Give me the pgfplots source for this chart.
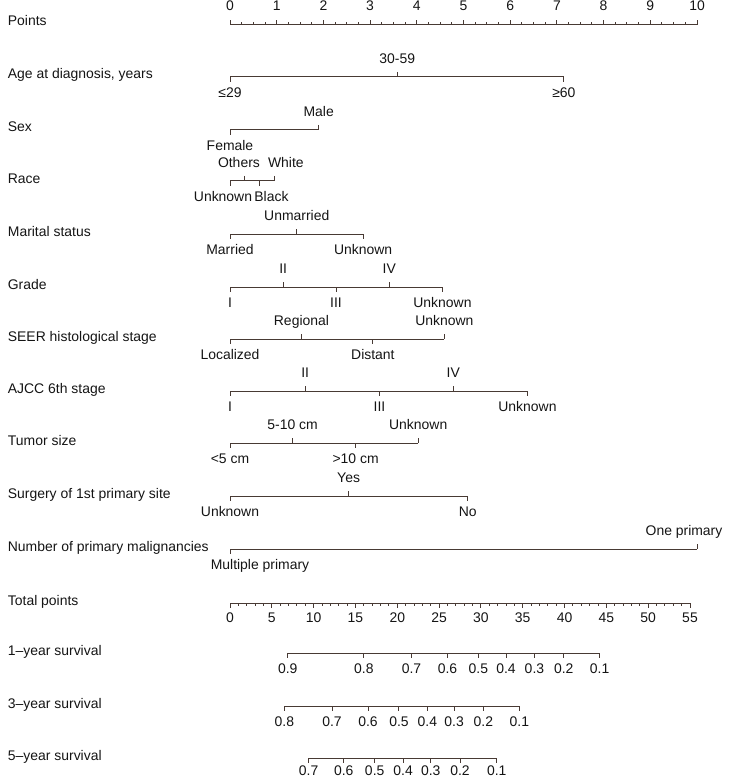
\documentclass[border=0pt]{standalone}
\usepackage{fontspec}
\setmainfont{Liberation Sans}
\usepackage{pgfplots}
\pgfplotsset{compat=1.18}

\definecolor{ln}{RGB}{72,58,52}
\definecolor{tx}{RGB}{20,20,20}

\pgfplotsset{
  nomo/.style={width=736bp, height=777bp, scale only axis, hide axis,
    clip=false, y dir=reverse, ymin=0, ymax=777},
  bar/.style={ln, line width=1bp, no markers},
  lab/.style={nodes near coords, point meta=explicit symbolic,
    nodes near coords align={anchor=base},
    nodes near coords style={inner sep=0pt, text=tx, yshift=#1}},
  % tick of length 2*#1, pointing up (tk) or down (tkd)
  tk/.style={only marks, mark=|, mark size=#1,
    mark options={ln, line width=1bp, yshift=#1}},
  tkd/.style={only marks, mark=|, mark size=#1,
    mark options={ln, line width=1bp, yshift=-#1}},
  up/.style={tk=2.5bp, lab=11bp},
  dn/.style={tkd=2.5bp, lab=-18bp},
  axup/.style={tk=2.25bp, lab=12.5bp},
  axdn/.style={tkd=2.25bp, lab=-17bp},
  svdn/.style={tkd=2.25bp, lab=-18bp},
  minup/.style={tk=1.25bp},
  mindn/.style={tkd=1.25bp},
}

\begin{document}
\fontsize{14}{16}\selectfont
\begin{tikzpicture}
% upper part, in points (0-10)
\begin{axis}[nomo, xmin=-4.925, xmax=10.835]
% Points
\addplot[bar] coordinates {(0,25) (10,25)};
\addplot[minup] coordinates {(0,25) (0.25,25) (0.5,25) (0.75,25) (1,25) (1.25,25) (1.5,25) (1.75,25) (2,25) (2.25,25) (2.5,25) (2.75,25) (3,25) (3.25,25) (3.5,25) (3.75,25) (4,25) (4.25,25) (4.5,25) (4.75,25) (5,25) (5.25,25) (5.5,25) (5.75,25) (6,25) (6.25,25) (6.5,25) (6.75,25) (7,25) (7.25,25) (7.5,25) (7.75,25) (8,25) (8.25,25) (8.5,25) (8.75,25) (9,25) (9.25,25) (9.5,25) (9.75,25) (10,25)};
\addplot[axup] coordinates {(0,25)[0] (1,25)[1] (2,25)[2] (3,25)[3] (4,25)[4] (5,25)[5] (6,25)[6] (7,25)[7] (8,25)[8] (9,25)[9] (10,25)[10]};

% Age at diagnosis
\addplot[bar] coordinates {(0,77) (7.15,77)};
\addplot[up] coordinates {(3.58,77)[30-59]};
\addplot[dn] coordinates {(0,77)[≤29] (7.15,77)[≥60]};

% Sex
\addplot[bar] coordinates {(0,130) (1.9,130)};
\addplot[up] coordinates {(1.9,130)[Male]};
\addplot[dn] coordinates {(0,130)[Female]};

% Race
\addplot[bar] coordinates {(0,181) (0.96,181)};
\addplot[up, nodes near coords style={xshift=-6bp}] coordinates {(0.32,181)[Others]};
\addplot[up, nodes near coords style={xshift=11bp}] coordinates {(0.96,181)[White]};
\addplot[dn, nodes near coords style={xshift=-7bp}] coordinates {(0,181)[Unknown]};
\addplot[dn, nodes near coords style={xshift=12bp}] coordinates {(0.63,181)[Black]};

% Marital status
\addplot[bar] coordinates {(0,234) (2.85,234)};
\addplot[up] coordinates {(1.43,234)[Unmarried]};
\addplot[dn] coordinates {(0,234)[Married] (2.85,234)[Unknown]};

% Grade
\addplot[bar] coordinates {(0,287) (4.55,287)};
\addplot[up] coordinates {(1.14,287)[II] (3.41,287)[IV]};
\addplot[dn] coordinates {(0,287)[I] (2.27,287)[III] (4.55,287)[Unknown]};

% SEER histological stage
\addplot[bar] coordinates {(0,339) (4.59,339)};
\addplot[up] coordinates {(1.53,339)[Regional] (4.59,339)[Unknown]};
\addplot[dn] coordinates {(0,339)[Localized] (3.06,339)[Distant]};

% AJCC 6th stage
\addplot[bar] coordinates {(0,391) (6.37,391)};
\addplot[up] coordinates {(1.61,391)[II] (4.78,391)[IV]};
\addplot[dn] coordinates {(0,391)[I] (3.2,391)[III] (6.37,391)[Unknown]};

% Tumor size
\addplot[bar] coordinates {(0,443) (4.03,443)};
\addplot[up] coordinates {(1.34,443)[5-10 cm] (4.03,443)[Unknown]};
\addplot[dn] coordinates {(0,443)[<5 cm] (2.69,443)[>10 cm]};

% Surgery of 1st primary site
\addplot[bar] coordinates {(0,496) (5.09,496)};
\addplot[up] coordinates {(2.54,496)[Yes]};
\addplot[dn] coordinates {(0,496)[Unknown] (5.09,496)[No]};

% Number of primary malignancies
\addplot[bar] coordinates {(0,549) (10,549)};
\addplot[up, nodes near coords style={xshift=-13bp}] coordinates {(10,549)[One primary]};
\addplot[dn, nodes near coords style={xshift=30bp}] coordinates {(0,549)[Multiple primary]};

% row names
\node[anchor=base west, text=tx] at (axis cs:-4.86,26) {Points};
\node[anchor=base west, text=tx] at (axis cs:-4.86,79) {Age at diagnosis, years};
\node[anchor=base west, text=tx] at (axis cs:-4.86,132) {Sex};
\node[anchor=base west, text=tx] at (axis cs:-4.86,183) {Race};
\node[anchor=base west, text=tx] at (axis cs:-4.86,236) {Marital status};
\node[anchor=base west, text=tx] at (axis cs:-4.86,289) {Grade};
\node[anchor=base west, text=tx] at (axis cs:-4.86,341) {SEER histological stage};
\node[anchor=base west, text=tx] at (axis cs:-4.86,393) {AJCC 6th stage};
\node[anchor=base west, text=tx] at (axis cs:-4.86,445) {Tumor size};
\node[anchor=base west, text=tx] at (axis cs:-4.86,498) {Surgery of 1st primary site};
\node[anchor=base west, text=tx] at (axis cs:-4.86,551) {Number of primary malignancies};
\node[anchor=base west, text=tx] at (axis cs:-4.86,605) {Total points};
\node[anchor=base west, text=tx] at (axis cs:-4.86,655) {1–year survival};
\node[anchor=base west, text=tx] at (axis cs:-4.86,708) {3–year survival};
\node[anchor=base west, text=tx] at (axis cs:-4.86,760) {5–year survival};
\end{axis}

% lower part, in total points (0-55)
\begin{axis}[nomo, xmin=-27.5, xmax=60.5]
% Total points
\addplot[bar] coordinates {(0,603) (55,603)};
\addplot[mindn] coordinates {(0,603) (1,603) (2,603) (3,603) (4,603) (5,603) (6,603) (7,603) (8,603) (9,603) (10,603) (11,603) (12,603) (13,603) (14,603) (15,603) (16,603) (17,603) (18,603) (19,603) (20,603) (21,603) (22,603) (23,603) (24,603) (25,603) (26,603) (27,603) (28,603) (29,603) (30,603) (31,603) (32,603) (33,603) (34,603) (35,603) (36,603) (37,603) (38,603) (39,603) (40,603) (41,603) (42,603) (43,603) (44,603) (45,603) (46,603) (47,603) (48,603) (49,603) (50,603) (51,603) (52,603) (53,603) (54,603) (55,603)};
\addplot[axdn] coordinates {(0,603)[0] (5,603)[5] (10,603)[10] (15,603)[15] (20,603)[20] (25,603)[25] (30,603)[30] (35,603)[35] (40,603)[40] (45,603)[45] (50,603)[50] (55,603)[55]};

% 1-year survival
\addplot[bar] coordinates {(6.9,653) (44.2,653)};
\addplot[svdn] coordinates {(6.9,653)[0.9] (16.0,653)[0.8] (21.7,653)[0.7] (26.0,653)[0.6] (29.7,653)[0.5] (33.0,653)[0.4] (36.4,653)[0.3] (39.9,653)[0.2] (44.2,653)[0.1]};

% 3-year survival
\addplot[bar] coordinates {(6.5,706) (34.6,706)};
\addplot[svdn] coordinates {(6.5,706)[0.8] (12.2,706)[0.7] (16.5,706)[0.6] (20.2,706)[0.5] (23.6,706)[0.4] (26.8,706)[0.3] (30.3,706)[0.2] (34.6,706)[0.1]};

% 5-year survival
\addplot[bar] coordinates {(9.4,758) (31.9,758)};
\addplot[tkd=2.25bp, lab=-15bp] coordinates {(9.4,758)[0.7] (13.6,758)[0.6] (17.3,758)[0.5] (20.7,758)[0.4] (24.0,758)[0.3] (27.5,758)[0.2] (31.9,758)[0.1]};
\end{axis}
% page = the axis box, 736 x 777
\pgfresetboundingbox
\path[use as bounding box] (0,0) rectangle (736bp,777bp);
\end{tikzpicture}
\end{document}
